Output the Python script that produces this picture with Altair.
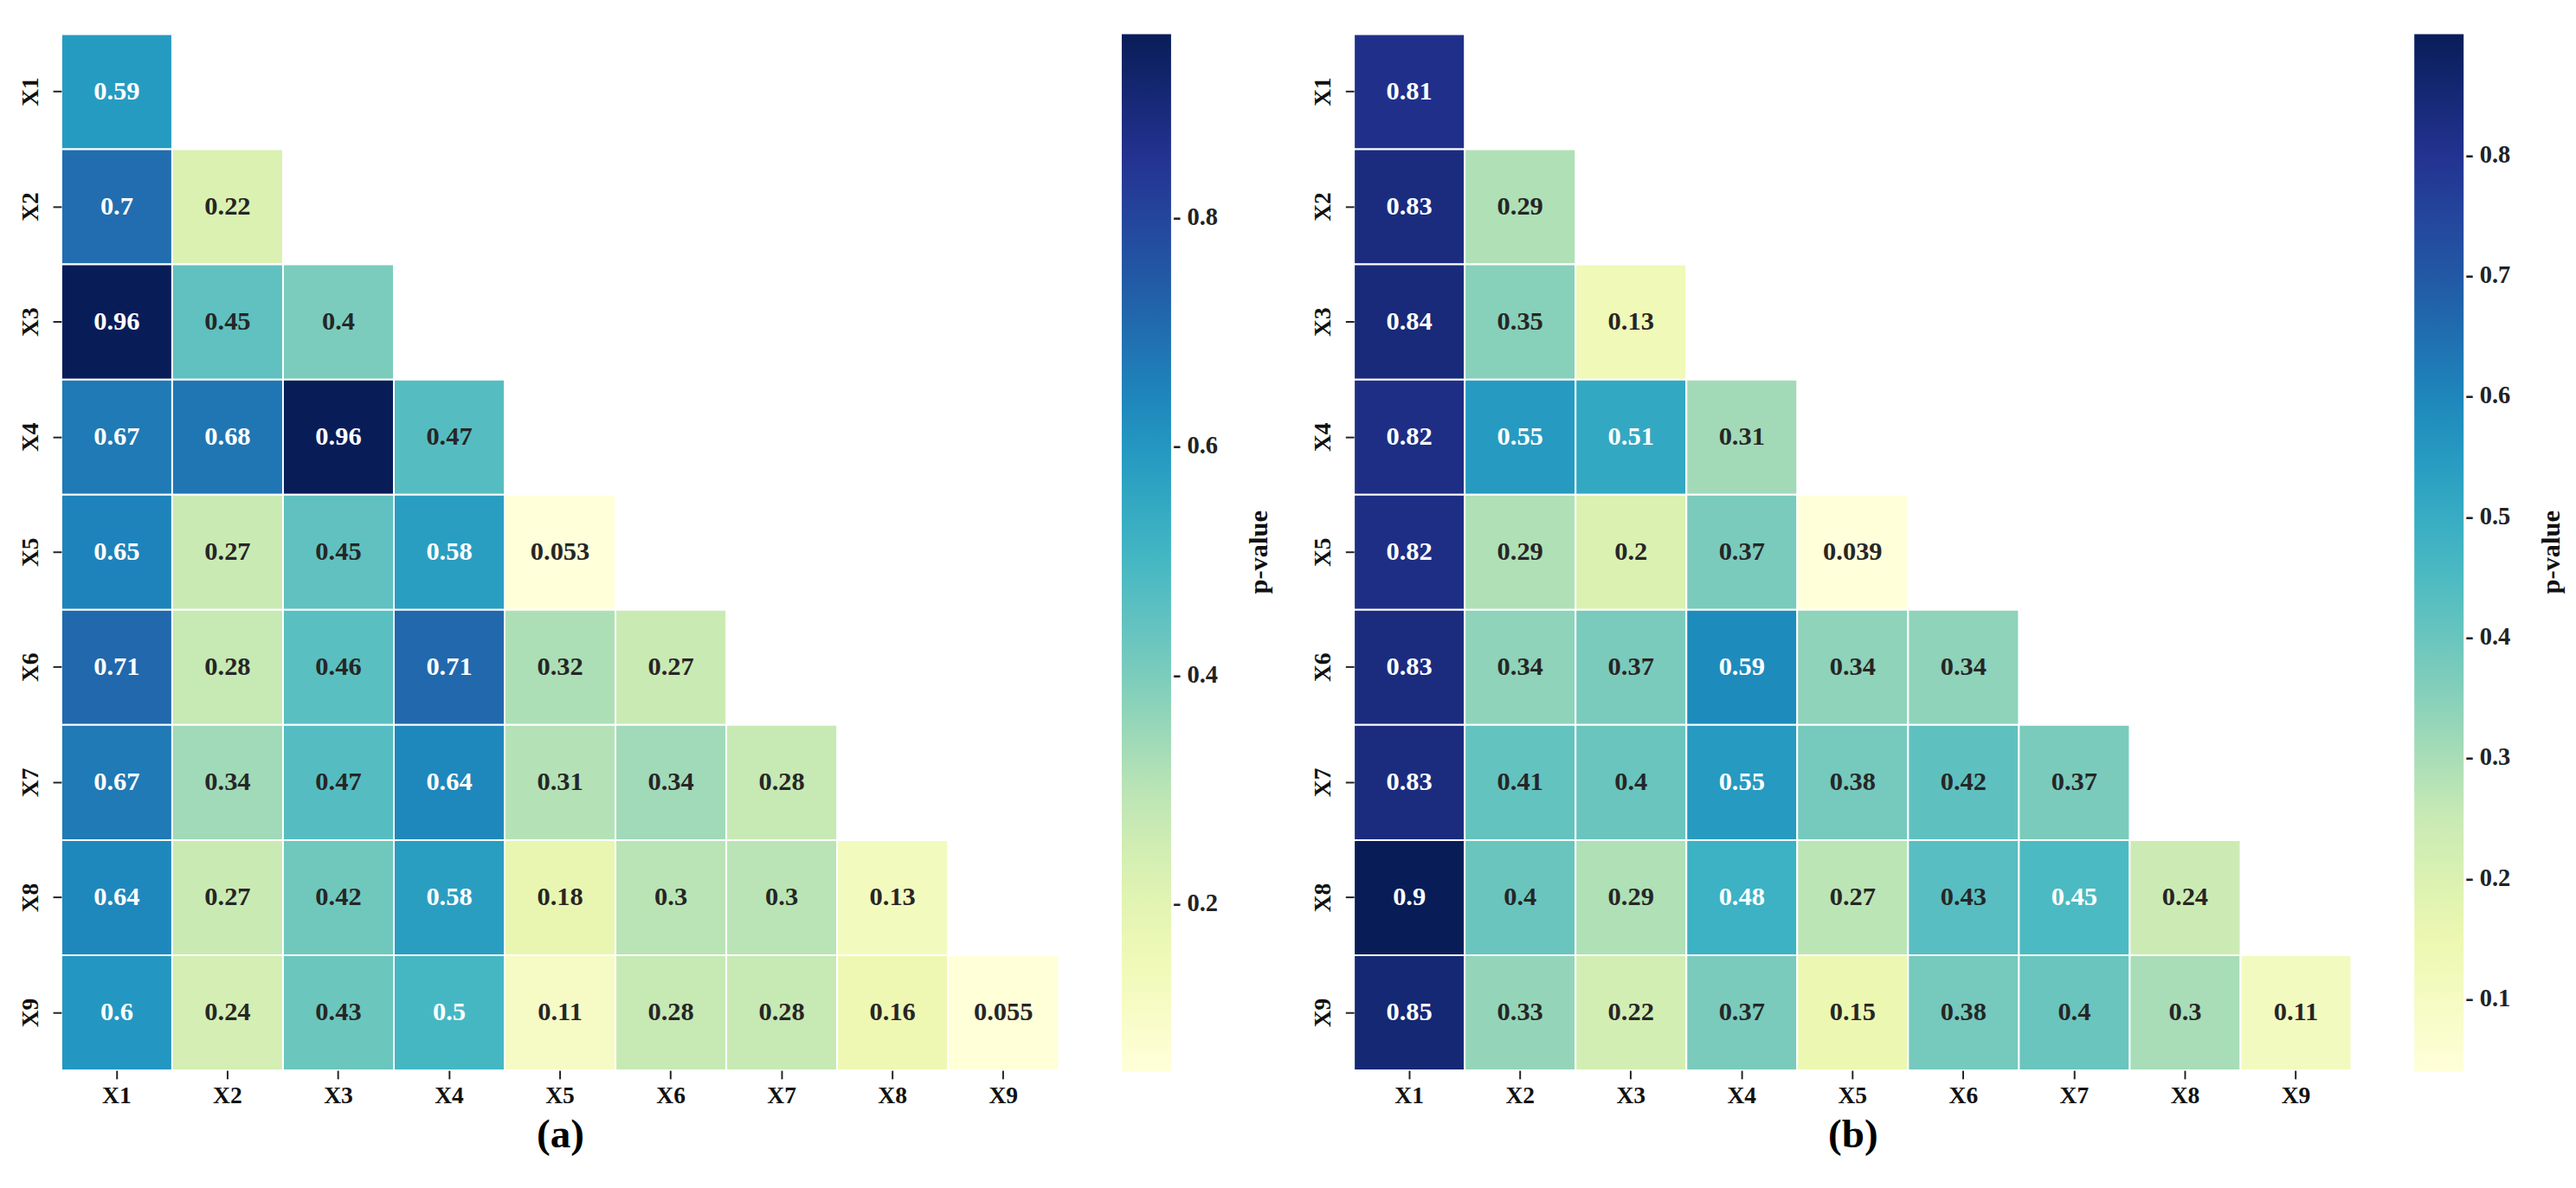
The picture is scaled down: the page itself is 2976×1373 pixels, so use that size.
import altair as alt
import pandas as pd
import numpy as np

VARS = ["X1", "X2", "X3", "X4", "X5", "X6", "X7", "X8", "X9"]

# lower-triangular p-values, row by row (row Xi has i entries: columns X1..Xi)
P_A = [
    [0.59],
    [0.7, 0.22],
    [0.96, 0.45, 0.4],
    [0.67, 0.68, 0.96, 0.47],
    [0.65, 0.27, 0.45, 0.58, 0.053],
    [0.71, 0.28, 0.46, 0.71, 0.32, 0.27],
    [0.67, 0.34, 0.47, 0.64, 0.31, 0.34, 0.28],
    [0.64, 0.27, 0.42, 0.58, 0.18, 0.3, 0.3, 0.13],
    [0.6, 0.24, 0.43, 0.5, 0.11, 0.28, 0.28, 0.16, 0.055],
]
P_B = [
    [0.81],
    [0.83, 0.29],
    [0.84, 0.35, 0.13],
    [0.82, 0.55, 0.51, 0.31],
    [0.82, 0.29, 0.2, 0.37, 0.039],
    [0.83, 0.34, 0.37, 0.59, 0.34, 0.34],
    [0.83, 0.41, 0.4, 0.55, 0.38, 0.42, 0.37],
    [0.9, 0.4, 0.29, 0.48, 0.27, 0.43, 0.45, 0.24],
    [0.85, 0.33, 0.22, 0.37, 0.15, 0.38, 0.4, 0.3, 0.11],
]
TICKS_A = [0.2, 0.4, 0.6, 0.8]
TICKS_B = [0.1, 0.2, 0.3, 0.4, 0.5, 0.6, 0.7, 0.8]
PANEL_LABELS = ["(a)", "(b)"]

YLGNBU = ["#ffffd9", "#edf8b1", "#c7e9b4", "#7fcdbb", "#41b6c4",
          "#1d91c0", "#225ea8", "#253494", "#081d58"]

FONT = "Liberation Serif"
W, H = 1173, 1219


def hex_rgb(h):
    return np.array([int(h[i:i + 2], 16) for i in (1, 3, 5)]) / 255.0


RGB = np.array([hex_rgb(c) for c in YLGNBU])


def text_color(v, vmin, vmax):
    t = (v - vmin) / (vmax - vmin)
    pos = np.linspace(0, 1, len(YLGNBU))
    rgb = np.array([np.interp(t, pos, RGB[:, k]) for k in range(3)])
    lin = np.where(rgb <= 0.03928, rgb / 12.92, ((rgb + 0.055) / 1.055) ** 2.4)
    lum = 0.2126 * lin[0] + 0.7152 * lin[1] + 0.0722 * lin[2]
    return "#262626" if lum > 0.408 else "#ffffff"


def frame(rows):
    vals = [v for r in rows for v in r]
    vmin, vmax = min(vals), max(vals)
    recs = []
    for i, r in enumerate(rows):
        for j, v in enumerate(r):
            recs.append({"row": VARS[i], "col": VARS[j], "p": v,
                         "lab": format(v, ".2g"),
                         "tc": text_color(v, vmin, vmax)})
    return pd.DataFrame(recs), vmin, vmax


def panel(rows, ticks, label):
    df, vmin, vmax = frame(rows)
    stops = [vmin + (vmax - vmin) * k / 8 for k in range(9)]
    x = alt.X("col:N", sort=VARS,
              scale=alt.Scale(domain=VARS, paddingInner=0, paddingOuter=0),
              axis=alt.Axis(title=label, labelAngle=0, labelFont=FONT,
                            labelFontWeight="bold", labelFontSize=28,
                            labelColor="#111", labelPadding=6,
                            tickSize=10, tickWidth=2, tickColor="#222",
                            domain=False, titleFont=FONT,
                            titleFontWeight="bold", titleFontSize=48,
                            titleColor="#000", titlePadding=8))
    y = alt.Y("row:N", sort=VARS,
              scale=alt.Scale(domain=VARS, paddingInner=0, paddingOuter=0),
              axis=alt.Axis(title=None, labelAngle=270, labelFont=FONT,
                            labelFontWeight="bold", labelFontSize=28,
                            labelColor="#111", labelPadding=12,
                            tickSize=10, tickWidth=2, tickColor="#222",
                            domain=False))
    base = alt.Chart(df)
    rect = base.mark_rect(stroke="white", strokeWidth=2).encode(
        x=x, y=y,
        color=alt.Color("p:Q",
                        scale=alt.Scale(domain=stops, range=YLGNBU,
                                        interpolate="rgb"),
                        legend=alt.Legend(title=None, orient="right",
                                          direction="vertical",
                                          gradientLength=1221,
                                          gradientThickness=58,
                                          gradientStrokeWidth=0,
                                          values=ticks, format=".1f",
                                          labelExpr="'- ' + datum.label",
                                          labelFont=FONT,
                                          labelFontWeight="bold",
                                          labelFontSize=29,
                                          labelColor="#222",
                                          labelOffset=2,
                                          labelOverlap=False,
                                          offset=74, padding=0)))
    text = base.mark_text(font=FONT, fontWeight="bold", fontSize=31).encode(
        x=x, y=y, text="lab:N", color=alt.Color("tc:N", scale=None))
    return alt.layer(rect, text).properties(
        width=W, height=H,
        title=alt.TitleParams("p-value", orient="right", angle=270,
                              frame="group", anchor="middle", font=FONT,
                              fontSize=31, fontWeight="bold",
                              color="#111", offset=2),
    ).resolve_scale(color="independent")


chart = alt.hconcat(
    panel(P_A, TICKS_A, PANEL_LABELS[0]),
    panel(P_B, TICKS_B, PANEL_LABELS[1]),
    spacing=46,
).resolve_scale(color="independent").properties(
    padding={"left": 14, "top": 19, "right": 5, "bottom": 5},
    background="white",
).configure_view(stroke=None)

chart.save("out.html", embed_options={"renderer": "svg", "actions": False})
